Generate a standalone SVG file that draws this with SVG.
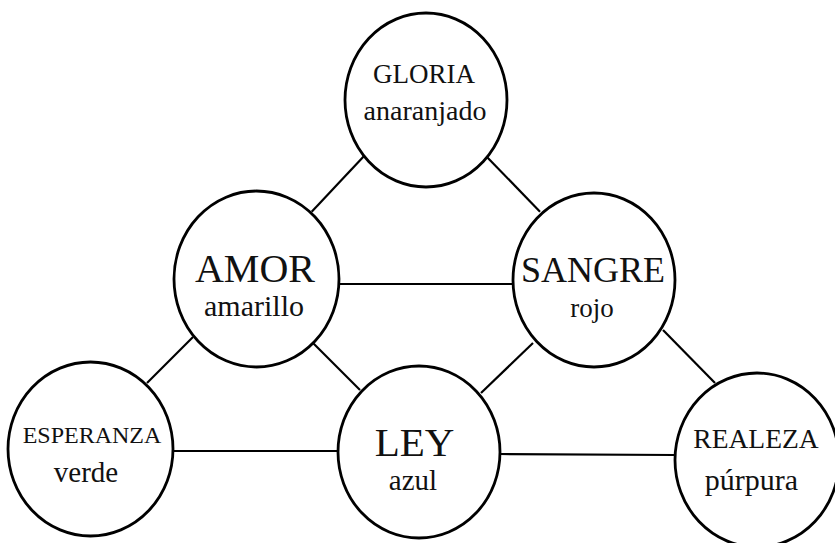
<svg xmlns="http://www.w3.org/2000/svg" width="835" height="543" viewBox="0 0 835 543">
<style>
.n{fill:#fff;stroke:#000;stroke-width:2.8}
.c line{stroke:#000;stroke-width:2.2}
text{font-family:"Liberation Serif","Times New Roman",serif;fill:#111;text-anchor:middle}
</style>
<rect width="835" height="543" fill="#fff"/>
<g class="c" id="connectors">
<line x1="365" y1="155" x2="311.7" y2="211.7"/>
<line x1="486.7" y1="156.7" x2="540" y2="211.7"/>
<line x1="339" y1="284" x2="513" y2="284"/>
<line x1="193" y1="337" x2="147" y2="383"/>
<line x1="313" y1="343" x2="360" y2="390"/>
<line x1="533" y1="343" x2="481" y2="393"/>
<line x1="663" y1="330" x2="715" y2="383"/>
<line x1="173" y1="451" x2="338" y2="451"/>
<line x1="500" y1="454" x2="675" y2="455"/>
</g>
<g id="gloria">
<ellipse class="n" cx="426" cy="100" rx="81" ry="87"/>
<text x="424" y="83" font-size="27">GLORIA</text>
<text x="425" y="120" font-size="28">anaranjado</text>
</g>
<g id="amor">
<ellipse class="n" cx="256.5" cy="279" rx="82.5" ry="88"/>
<text x="255" y="282" font-size="40">AMOR</text>
<text x="254" y="316" font-size="30">amarillo</text>
</g>
<g id="sangre">
<ellipse class="n" cx="594" cy="280" rx="81" ry="87"/>
<text x="593" y="282" font-size="36">SANGRE</text>
<text x="592" y="317" font-size="27">rojo</text>
</g>
<g id="esperanza">
<ellipse class="n" cx="90.5" cy="449" rx="82.5" ry="87"/>
<text x="92" y="443" font-size="24">ESPERANZA</text>
<text x="86" y="482" font-size="29">verde</text>
</g>
<g id="ley">
<ellipse class="n" cx="419" cy="452" rx="81" ry="86"/>
<text x="414.5" y="456" font-size="41">LEY</text>
<text x="413" y="490" font-size="29">azul</text>
</g>
<g id="realeza">
<ellipse class="n" cx="757" cy="460" rx="82" ry="87"/>
<text x="756" y="448" font-size="27.5">REALEZA</text>
<text x="751.5" y="490" font-size="30">púrpura</text>
</g>
</svg>
